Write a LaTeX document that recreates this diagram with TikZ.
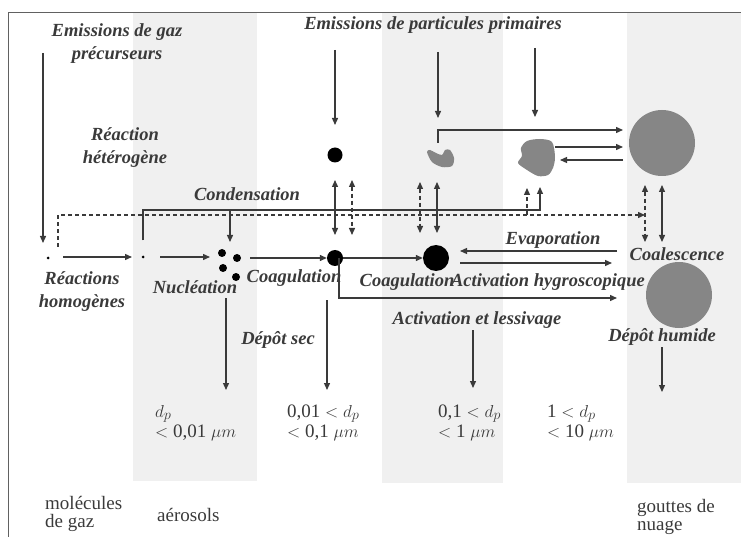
\documentclass[tikz,border=0pt]{standalone}
\usepackage{fontspec}
\setmainfont{Liberation Serif}
\usetikzlibrary{arrows.meta}
\definecolor{txt}{HTML}{3A3A3A}
\definecolor{band}{HTML}{F0F0F0}
\definecolor{drop}{HTML}{868686}
\tikzset{
  lbl/.style={text=txt, font=\fontsize{18.5}{23}\selectfont\itshape\bfseries, align=center, inner sep=0pt},
  size/.style={text=txt, font=\fontsize{19}{20}\selectfont, align=left, inner sep=0pt, anchor=base west},
  kind/.style={size, font=\fontsize{19}{18}\selectfont},
  flow/.style={draw=txt, line width=1.3pt, -{Triangle[length=7pt,width=6pt]}},
  both/.style={flow, {Triangle[length=7pt,width=6pt]}-{Triangle[length=7pt,width=6pt]}},
  trace/.style={dash pattern=on 4pt off 3pt},
  dot/.style={circle, fill=black, inner sep=0pt},
  blob/.style={circle, fill=drop, inner sep=0pt}
}
\begin{document}
\begin{tikzpicture}[x=1pt,y=-1pt]
    \useasboundingbox (0,0) rectangle (741,537);
    \fill[band] (133,12) rectangle (257,481);
    \fill[band] (382,12) rectangle (503,483);
    \fill[band] (627,12) rectangle (741,483);
    \draw[txt!80, line width=0.8pt] (741,12) -- (8,12) -- (8,537);

    % particules
    \node[dot, minimum size=3pt] (gas1) at (48,258) {};
    \node[dot, minimum size=3pt] (gas2) at (143,257) {};
    \node[inner sep=0pt, minimum size=28pt] (nuc) at (229,265) {};
    \foreach \p in {(222,253),(237,258),(223,268),(236,277)}
        \fill \p circle (4pt);
    \node[dot, minimum size=15pt] (p1) at (335,155) {};
    \node[dot, minimum size=16pt] (p2) at (335,258) {};
    \node[dot, minimum size=26pt] (p3) at (436,258) {};
    \node[inner sep=0pt, minimum size=20pt] (g1) at (440,158) {};
    \fill[drop] plot[smooth cycle] coordinates {(427,152) (432,162) (442,167) (452,166) (454,158) (450,150) (445,150) (442,155) (436,153) (430,150)};
    \node[inner sep=0pt, minimum size=38pt] (g2) at (537,157) {};
    \fill[drop] plot[smooth cycle] coordinates {(521,148) (527,141) (540,139) (552,142) (555,157) (553,168) (548,175) (538,176) (527,170) (518,163) (522,156)};
    \node[blob, minimum size=66pt] (drop1) at (662,143) {};
    \node[blob, minimum size=66pt] (drop2) at (679,295) {};

    % textes
    \node[lbl] (egaz) at (117,44) {Emissions de gaz\\précurseurs};
    \node[lbl] (epart) at (433,25) {Emissions de particules primaires};
    \node[lbl] (rhet) at (125,148) {Réaction\\hétérogène};
    \node[lbl] (cond) at (247,194) {Condensation};
    \node[lbl] (rhom) at (82,292) {Réactions\\homogènes};
    \node[lbl] (nucl) at (195,287) {Nucléation};
    \node[lbl] (coag1) at (294,278) {Coagulation};
    \node[lbl] (coag2) at (407,282) {Coagulation};
    \node[lbl] (acth) at (548,282) {Activation hygroscopique};
    \node[lbl] (evap) at (553,240) {Evaporation};
    \node[lbl] (coal) at (677,254) {Coalescence};
    \node[lbl] (actl) at (477,320) {Activation et lessivage};
    \node[lbl] (dsec) at (278,340) {Dépôt sec};
    \node[lbl] (dhum) at (662,337) {Dépôt humide};
    \node[size] (s1) at (155,437) {$d_p$\\$<$ 0,01 $\mu m$};
    \node[size] (s2) at (287,437) {0,01 $<d_p$\\$<$ 0,1 $\mu m$};
    \node[size] (s3) at (438,437) {0,1 $<d_p$\\$<$ 1 $\mu m$};
    \node[size] (s4) at (547,437) {1 $<d_p$\\$<$ 10 $\mu m$};
    \node[kind] (mol) at (45,527) {molécules\\de gaz};
    \node[kind] (aer) at (157,521) {aérosols};
    \node[kind] (gou) at (637,530) {gouttes de\\nuage};

    % points libres
    \coordinate (eg0) at (43,53);
    \coordinate (eg1) at (43,243);
    \coordinate (ev0) at (617,251);
    \coordinate (ev1) at (460,251);
    \coordinate (ac0) at (460,263);
    \coordinate (ac1) at (612,263);
    \coordinate (ls1) at (617,298);

    % chaine principale
    \draw[flow] (eg0) -- (eg1);
    \draw[flow] (63,257) -- (132,257);
    \draw[flow] (160,257) -- (210,257);
    \draw[flow] (250,258) -- (p2.west);
    \draw[flow] (p2.east) -- (p3.west);
    \draw[flow] (ev0) -- (ev1);
    \draw[flow] (ac0) -- (ac1);
    \draw[flow] (339,258) -- (339,298) -- (ls1);

    % condensation
    \draw[flow] (gas2.north) ++(0,-15) -- (143,210) -- (540,210) -- (540,187);
    \draw[flow] (230,210) -- (230,242);
    \draw[flow, trace] (58,247) -- (58,215) -- (645,215);
    \draw[flow, trace] (527,215) -- (527,188);

    % echanges verticaux
    \draw[both] (335,180) -- (335,235);
    \draw[both, trace] (352,180) -- (352,235);
    \draw[both, trace] (420,182) -- (420,233);
    \draw[both] (437,182) -- (437,233);
    \draw[both, trace] (645,185) -- (645,242);
    \draw[both] (662,185) -- (662,242);

    % emissions primaires
    \draw[flow] (335,50) -- (335,125);
    \draw[flow] (438,52) -- (438,118);
    \draw[flow] (535,48) -- (535,117);
    \draw[flow] (438,143) -- (438,130) -- (623,130);
    \draw[flow] (555,147) -- (623,147);
    \draw[flow] (623,160) -- (560,160);

    % depots
    \draw[flow] (226,298) -- (226,390);
    \draw[flow] (327,300) -- (327,390);
    \draw[flow] (473,330) -- (473,388);
    \draw[flow] (662,347) -- (662,392);
\end{tikzpicture}
\end{document}
